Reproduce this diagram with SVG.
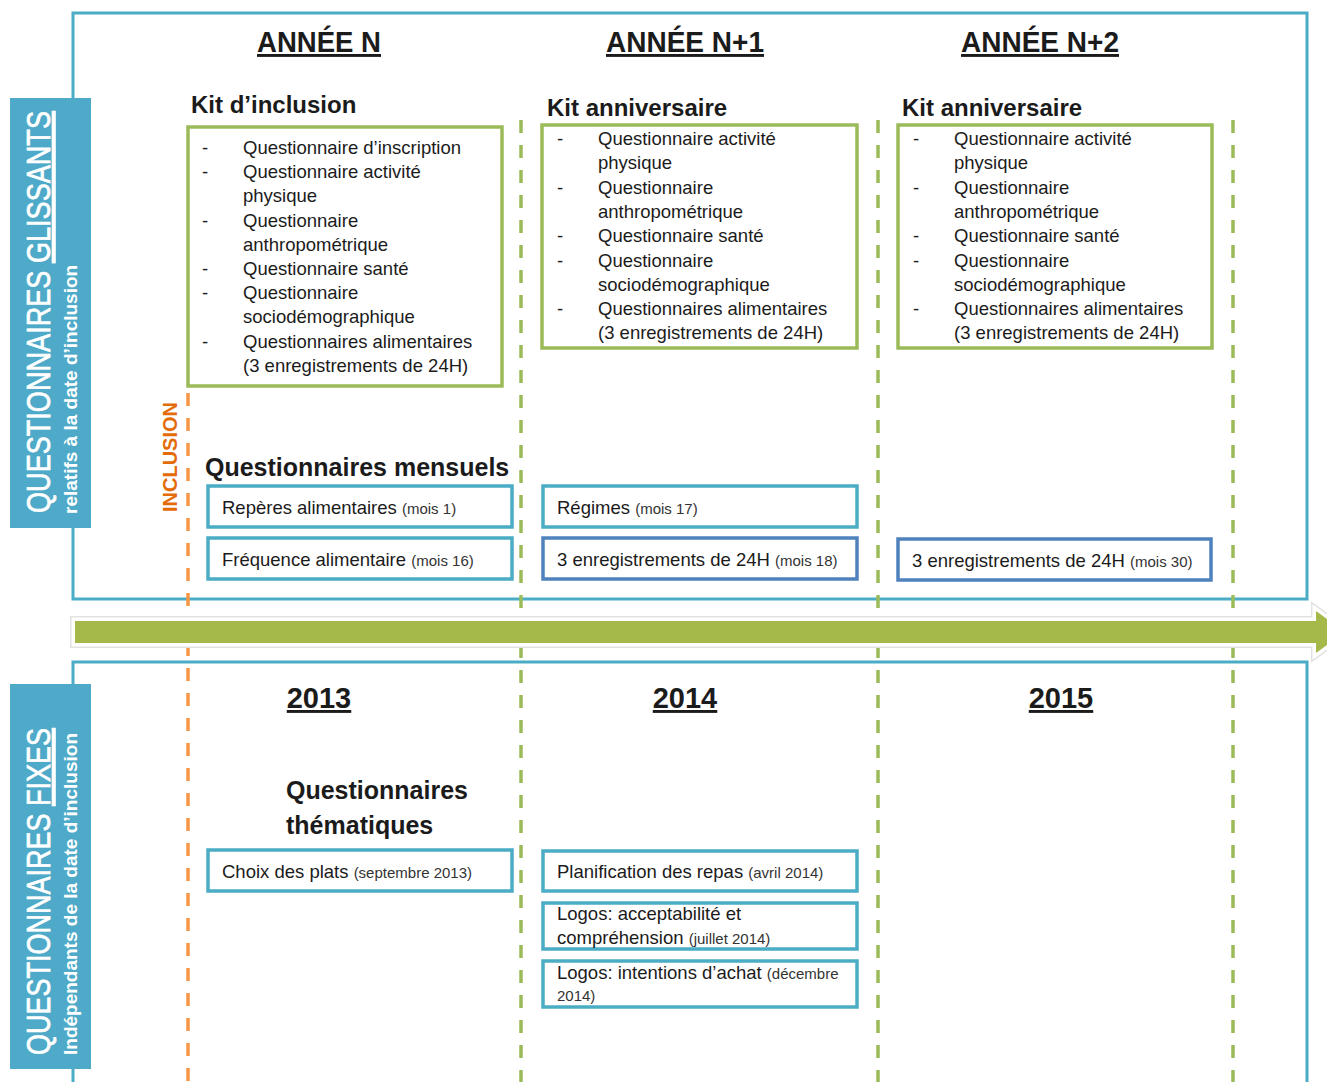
<svg xmlns="http://www.w3.org/2000/svg" width="1327" height="1082" viewBox="0 0 1327 1082">
  <style>
    text { font-family: "Liberation Sans", Arial, sans-serif; fill: #1b1b1b; }
    .frame { fill: none; stroke: #4bacc6; stroke-width: 3; }
    .bar { fill: #4eaac8; }
    .bar-title { font-size: 34px; fill: #ffffff; stroke: #ffffff; stroke-width: 0.7; }
    .bar-sub { font-size: 19px; font-weight: bold; fill: #ffffff; }
    .head { font-size: 29px; font-weight: bold; text-decoration: underline; }
    .kit-title { font-size: 24px; font-weight: bold; }
    .sec-title { font-size: 25px; font-weight: bold; }
    .kit { fill: #ffffff; stroke: #9bbb59; stroke-width: 3.5; }
    .box { fill: #ffffff; stroke: #4bacc6; stroke-width: 3.5; }
    .box-dark { fill: #ffffff; stroke: #4f81bd; stroke-width: 3.5; }
    .item { font-size: 18.5px; }
    .small { font-size: 15px; fill: #333333; }
    .sep-green { stroke: #9bbb59; stroke-width: 3.5; stroke-dasharray: 13 12; fill: none; }
    .sep-orange { stroke: #f79646; stroke-width: 3.5; stroke-dasharray: 13 12; fill: none; }
    .incl { font-size: 20px; font-weight: bold; fill: #e36c09; }
  </style>

  <rect width="1327" height="1082" fill="#ffffff"/>

  <!-- section frames -->
  <g id="frames">
    <rect class="frame" x="73" y="13" width="1234" height="586"/>
    <path class="frame" d="M73,1090 V662 H1307 V1090"/>
  </g>

  <!-- column separators and timeline arrow -->
  <g id="connectors">
    <line class="sep-orange" x1="188" y1="393" x2="188" y2="1082"/>
    <line class="sep-green" x1="521" y1="120" x2="521" y2="1082"/>
    <line class="sep-green" x1="878" y1="120" x2="878" y2="1082"/>
    <line class="sep-green" x1="1233" y1="120" x2="1233" y2="1082"/>
    <polygon points="75,621 1316,621 1316,611 1345,632 1316,653 1316,643 75,643" fill="none" stroke="#e2e2e2" stroke-width="10" stroke-linejoin="miter"/>
    <polygon points="75,621 1316,621 1316,611 1345,632 1316,653 1316,643 75,643" fill="none" stroke="#ffffff" stroke-width="7" stroke-linejoin="miter"/>
    <polygon points="75,621 1316,621 1316,611 1345,632 1316,653 1316,643 75,643" fill="#a5b94b"/>
  </g>

  <!-- side labels -->
  <g id="label-glissants">
    <rect class="bar" x="10" y="98" width="81" height="430"/>
    <text class="bar-title" transform="translate(50,513) rotate(-90)" textLength="402" lengthAdjust="spacingAndGlyphs">QUESTIONNAIRES <tspan text-decoration="underline">GLISSANTS</tspan></text>
    <text class="bar-sub" transform="translate(77,514) rotate(-90)">relatifs à la date d’inclusion</text>
  </g>
  <g id="label-fixes">
    <rect class="bar" x="10" y="684" width="81" height="385"/>
    <text class="bar-title" transform="translate(50,1055) rotate(-90)" textLength="327" lengthAdjust="spacingAndGlyphs">QUESTIONNAIRES <tspan text-decoration="underline">FIXES</tspan></text>
    <text class="bar-sub" transform="translate(77,1055) rotate(-90)">Indépendants de la date d’inclusion</text>
  </g>
  <g id="label-inclusion">
    <text class="incl" transform="translate(177,512) rotate(-90)">INCLUSION</text>
  </g>

  <!-- year headers -->
  <g id="headers">
    <text class="head" x="257" y="52" textLength="124" lengthAdjust="spacingAndGlyphs">ANNÉE N</text>
    <text class="head" x="606" y="52" textLength="158" lengthAdjust="spacingAndGlyphs">ANNÉE N+1</text>
    <text class="head" x="961" y="52" textLength="158" lengthAdjust="spacingAndGlyphs">ANNÉE N+2</text>
    <text class="head" x="319" y="708" text-anchor="middle">2013</text>
    <text class="head" x="685" y="708" text-anchor="middle">2014</text>
    <text class="head" x="1061" y="708" text-anchor="middle">2015</text>
  </g>

  <!-- inclusion kit -->
  <g id="kit-inclusion">
    <text class="kit-title" x="191" y="113">Kit d’inclusion</text>
    <rect class="kit" x="188" y="127" width="314" height="259"/>
    <g class="item">
      <text x="202" y="154">-</text><text x="243" y="154">Questionnaire d’inscription</text>
      <text x="202" y="178.2">-</text><text x="243" y="178.2">Questionnaire activité</text>
      <text x="243" y="202.4">physique</text>
      <text x="202" y="226.6">-</text><text x="243" y="226.6">Questionnaire</text>
      <text x="243" y="250.8">anthropométrique</text>
      <text x="202" y="275">-</text><text x="243" y="275">Questionnaire santé</text>
      <text x="202" y="299.2">-</text><text x="243" y="299.2">Questionnaire</text>
      <text x="243" y="323.4">sociodémographique</text>
      <text x="202" y="347.6">-</text><text x="243" y="347.6">Questionnaires alimentaires</text>
      <text x="243" y="371.8">(3 enregistrements de 24H)</text>
    </g>
  </g>

  <!-- anniversary kit, year N+1 -->
  <g id="kit-n1">
    <text class="kit-title" x="547" y="116">Kit anniversaire</text>
    <rect class="kit" x="542" y="125" width="315" height="223"/>
    <g class="item">
      <text x="557" y="145">-</text><text x="598" y="145">Questionnaire activité</text>
      <text x="598" y="169.3">physique</text>
      <text x="557" y="193.6">-</text><text x="598" y="193.6">Questionnaire</text>
      <text x="598" y="217.9">anthropométrique</text>
      <text x="557" y="242.2">-</text><text x="598" y="242.2">Questionnaire santé</text>
      <text x="557" y="266.5">-</text><text x="598" y="266.5">Questionnaire</text>
      <text x="598" y="290.8">sociodémographique</text>
      <text x="557" y="315.1">-</text><text x="598" y="315.1">Questionnaires alimentaires</text>
      <text x="598" y="339.4">(3 enregistrements de 24H)</text>
    </g>
  </g>

  <!-- anniversary kit, year N+2 -->
  <g id="kit-n2">
    <text class="kit-title" x="902" y="116">Kit anniversaire</text>
    <rect class="kit" x="898" y="125" width="314" height="223"/>
    <g class="item">
      <text x="913" y="145">-</text><text x="954" y="145">Questionnaire activité</text>
      <text x="954" y="169.3">physique</text>
      <text x="913" y="193.6">-</text><text x="954" y="193.6">Questionnaire</text>
      <text x="954" y="217.9">anthropométrique</text>
      <text x="913" y="242.2">-</text><text x="954" y="242.2">Questionnaire santé</text>
      <text x="913" y="266.5">-</text><text x="954" y="266.5">Questionnaire</text>
      <text x="954" y="290.8">sociodémographique</text>
      <text x="913" y="315.1">-</text><text x="954" y="315.1">Questionnaires alimentaires</text>
      <text x="954" y="339.4">(3 enregistrements de 24H)</text>
    </g>
  </g>

  <!-- monthly questionnaires -->
  <text class="sec-title" x="205" y="476">Questionnaires mensuels</text>
  <g id="q-reperes">
    <rect class="box" x="208" y="486" width="304" height="41"/>
    <text class="item" x="222" y="514">Repères alimentaires <tspan class="small">(mois 1)</tspan></text>
  </g>
  <g id="q-frequence">
    <rect class="box" x="208" y="538" width="304" height="41"/>
    <text class="item" x="222" y="566">Fréquence alimentaire <tspan class="small">(mois 16)</tspan></text>
  </g>
  <g id="q-regimes">
    <rect class="box" x="543" y="486" width="314" height="41"/>
    <text class="item" x="557" y="514">Régimes <tspan class="small">(mois 17)</tspan></text>
  </g>
  <g id="q-24h-18">
    <rect class="box-dark" x="543" y="538" width="314" height="41"/>
    <text class="item" x="557" y="566">3 enregistrements de 24H <tspan class="small">(mois 18)</tspan></text>
  </g>
  <g id="q-24h-30">
    <rect class="box-dark" x="898" y="539" width="313" height="41"/>
    <text class="item" x="912" y="567">3 enregistrements de 24H <tspan class="small">(mois 30)</tspan></text>
  </g>

  <!-- thematic questionnaires -->
  <text class="sec-title" x="286" y="799">Questionnaires</text>
  <text class="sec-title" x="286" y="834">thématiques</text>
  <g id="q-plats">
    <rect class="box" x="208" y="850" width="304" height="41"/>
    <text class="item" x="222" y="878">Choix des plats <tspan class="small">(septembre 2013)</tspan></text>
  </g>
  <g id="q-repas">
    <rect class="box" x="543" y="851" width="314" height="40"/>
    <text class="item" x="557" y="878">Planification des repas <tspan class="small">(avril 2014)</tspan></text>
  </g>
  <g id="q-logos-accept">
    <rect class="box" x="543" y="903" width="314" height="46"/>
    <text class="item" x="557" y="920">Logos: acceptabilité et</text>
    <text class="item" x="557" y="944">compréhension <tspan class="small">(juillet 2014)</tspan></text>
  </g>
  <g id="q-logos-achat">
    <rect class="box" x="543" y="961" width="314" height="46"/>
    <text class="item" x="557" y="979">Logos: intentions d’achat <tspan class="small">(décembre</tspan></text>
    <text class="small" x="557" y="1001">2014)</text>
  </g>
</svg>
